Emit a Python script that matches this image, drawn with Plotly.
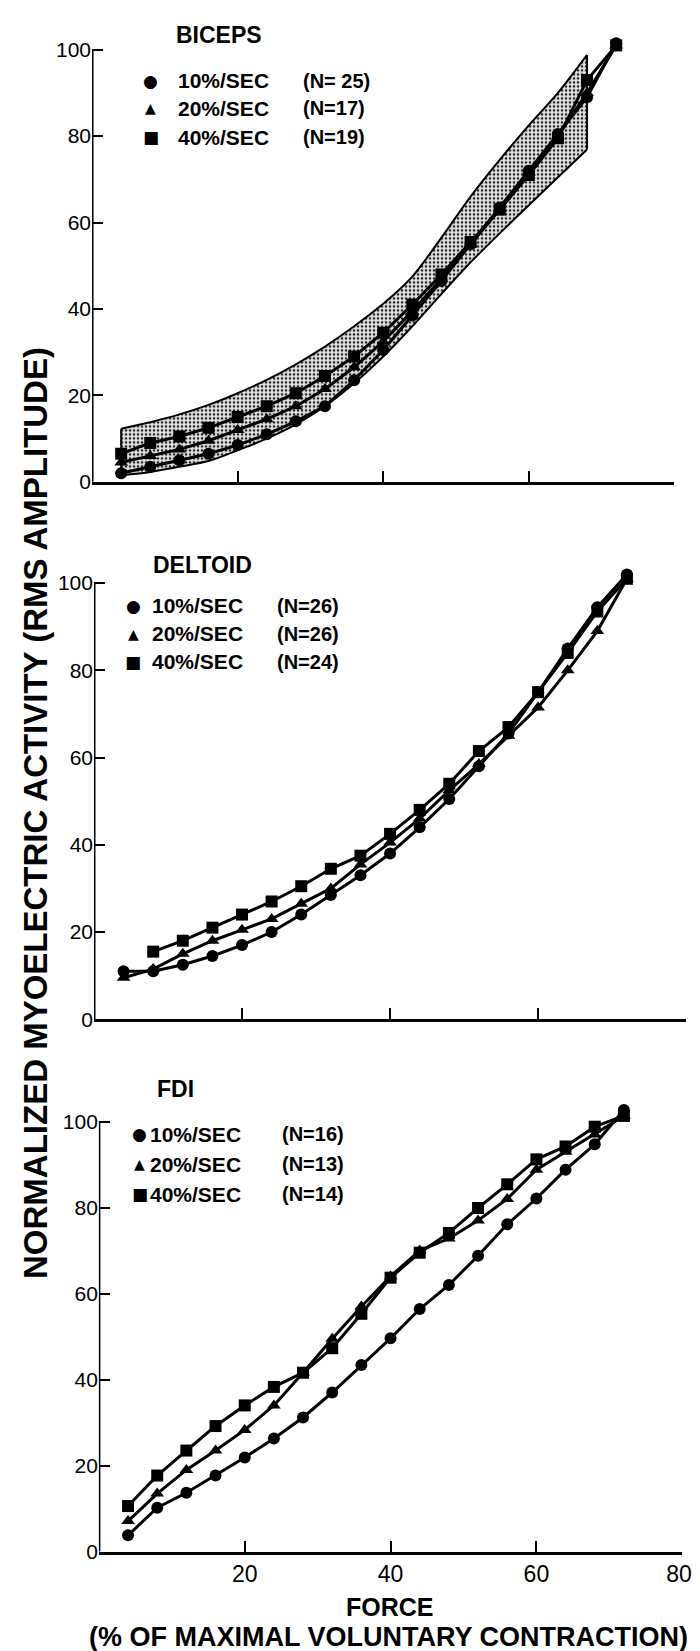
import plotly.graph_objects as go

W, H = 700, 1651
FONT = "Liberation Sans, Arial, sans-serif"

# ---------------- data ----------------
force = [4, 8, 12, 16, 20, 24, 28, 32, 36, 40, 44, 48, 52, 56, 60, 64, 68, 72]

# BICEPS
bic_10 = [2, 3.5, 5, 6.5, 8.5, 11, 14, 17.5, 23.5, 30.5, 38.5, 46.5, 55, 63.5, 72, 80.5, 89, 101.5]
bic_20 = [4.5, 6, 7.5, 9.5, 12, 14.5, 17.5, 21.5, 26.5, 32.5, 39.5, 47, 55, 63, 71.5, 80, 90, 101]
bic_40 = [6.5, 9, 10.5, 12.5, 15, 17.5, 20.5, 24.5, 29, 34.5, 41, 48, 55.5, 63, 71, 79.5, 93, 101]
band_x = [4, 8, 12, 16, 20, 24, 28, 32, 36, 40, 44, 48, 52, 56, 60, 64, 68]
band_hi = [12.3, 13.8, 15.6, 17.8, 20.5, 23.6, 27.2, 31.3, 36, 41.2, 47.5, 56.5, 66, 74.5, 82.5, 90, 98.8]
band_lo = [1.5, 2.3, 3.5, 4.8, 7.3, 10, 13.3, 17.5, 22.8, 29, 36, 43.5, 50.8, 57.5, 64, 70.5, 76.9]

# DELTOID
del_x40 = force[1:]
del_10 = [11, 11, 12.5, 14.5, 17, 20, 24, 28.5, 33, 38, 44, 50.5, 58, 65.5, 75, 85, 94.5, 102]
del_20 = [9.5, 11.5, 15, 18, 20.5, 23, 26.5, 30, 35.5, 40.5, 46, 52.5, 58.5, 65, 71.5, 80, 89, 101]
del_40 = [15.5, 18, 21, 24, 27, 30.5, 34.5, 37.5, 42.5, 48, 54, 61.5, 67, 75, 84, 93.5, 101]

# FDI
fdi_10 = [3.8, 10.2, 13.7, 17.7, 21.9, 26.3, 31.2, 37, 43.4, 49.6, 56.4, 62, 68.8, 76.1, 82.1, 88.8, 94.7, 102.7]
fdi_20 = [7.1, 13.5, 19, 23.5, 28.3, 34, 41.6, 49.5, 57, 64, 70, 72.8, 77, 82, 88.8, 93, 97, 101.3]
fdi_40 = [10.6, 17.7, 23.5, 29.2, 34, 38.3, 41.6, 47.3, 55.3, 63.7, 69.5, 74.1, 79.9, 85.4, 91.2, 94.2, 98.8, 101.3]

panels = ["BICEPS", "DELTOID", "FDI"]
rates = ["10%/SEC", "20%/SEC", "40%/SEC"]
n_counts = [["(N= 25)", "(N=17)", "(N=19)"],
            ["(N=26)", "(N=26)", "(N=24)"],
            ["(N=16)", "(N=13)", "(N=14)"]]
x_ticks = [20, 40, 60, 80]
x_ticklabels = ["20", "40", "60", "80\u00a0"]
y_ticks = [0, 20, 40, 60, 80, 100]
y_title = "NORMALIZED MYOELECTRIC ACTIVITY (RMS AMPLITUDE)"
x_title = "FORCE"
x_subtitle = "(% OF MAXIMAL VOLUNTARY CONTRACTION)"

# ---------------- layout geometry (pixels) ----------------
# (x0px, x80px, y0px, y100px) for each panel
geom = [(86, 682, 477, 42), (88, 694, 1018, 579), (93, 690, 1554, 1121)]
YMAX = 104

fig = go.Figure()

def fx(p):
    return p / W

def fy(p):
    return 1 - p / H

symbols = ["circle", "triangle-up", "square"]

series = [
    [(force, bic_10), (force, bic_20), (force, bic_40)],
    [(force, del_10), (force, del_20), (del_x40, del_40)],
    [(force, fdi_10), (force, fdi_20), (force, fdi_40)],
]

for i, (x0, x80, y0, y100) in enumerate(geom):
    ax = "" if i == 0 else str(i + 1)
    xa, ya = "x" + ax, "y" + ax
    if i == 0:
        # shaded band: lower edge, then upper edge filled down to it
        fig.add_trace(go.Scatter(
            x=band_x, y=band_lo, xaxis=xa, yaxis=ya, mode="lines",
            line=dict(color="black", width=2, shape="spline", smoothing=0.8),
            showlegend=False, hoverinfo="skip"))
        fig.add_trace(go.Scatter(
            x=band_x, y=band_hi, xaxis=xa, yaxis=ya, mode="lines", fill="tonexty",
            line=dict(color="black", width=2, shape="spline", smoothing=0.8),
            fillcolor="rgba(0,0,0,0)",
            fillpattern=dict(shape=".", size=4, solidity=0.35,
                             fgcolor="#222222", bgcolor="#e6e6e6", fillmode="replace"),
            showlegend=False, hoverinfo="skip"))
        fig.add_trace(go.Scatter(
            x=[band_x[0], band_x[0], None, band_x[-1], band_x[-1]],
            y=[band_lo[0], band_hi[0], None, band_lo[-1], band_hi[-1]],
            xaxis=xa, yaxis=ya, mode="lines", line=dict(color="black", width=2),
            showlegend=False, hoverinfo="skip"))
    for j, (sx, sy) in enumerate(series[i]):
        fig.add_trace(go.Scatter(
            x=sx, y=sy, xaxis=xa, yaxis=ya, mode="lines+markers",
            line=dict(color="black", width=3),
            marker=dict(symbol=symbols[j], size=12, color="black"),
            cliponaxis=False, showlegend=False))
    ytop = y100 - (YMAX - 100) * (y0 - y100) / 100
    fig.layout["xaxis" + ax] = dict(
        domain=[fx(x0), fx(x80)], range=[0, 80], anchor=ya,
        showgrid=False, zeroline=False, showline=True, linecolor="black", linewidth=3,
        ticks="inside", ticklen=11, tickwidth=2, tickcolor="black",
        tickvals=x_ticks, ticktext=x_ticklabels, showticklabels=(i == 2),
        ticklabeloverflow="allow",
        tickfont=dict(family=FONT, size=23, color="black"))
    fig.layout["yaxis" + ax] = dict(
        domain=[fy(y0), fy(ytop)], range=[0, YMAX], anchor=xa,
        showgrid=False, zeroline=False, showline=False,
        ticks="inside", ticklen=11, tickwidth=2, tickcolor="black",
        tickvals=y_ticks, tickfont=dict(family=FONT, size=21, color="black"))
    fig.add_shape(type="line", xref=xa, yref=ya, x0=0, x1=0, y0=0, y1=100,
                  line=dict(color="black", width=3))

annotations = []

def txt(t, x, y, size, xanchor="left", bold=True, angle=0, family=FONT):
    annotations.append(dict(
        text=("<b>%s</b>" % t) if bold else t, x=fx(x), y=fy(y),
        xref="paper", yref="paper", xanchor=xanchor, yanchor="middle",
        showarrow=False, textangle=angle,
        font=dict(family=family, size=size, color="black")))

# panel titles and legends (pixel positions)
leg = [
    dict(title=(170, 27), rows=[73, 101, 130], mk=146, tx=172, nx=300),
    dict(title=(146, 561), rows=[602, 630, 658], mk=128, tx=145, nx=273),
    dict(title=(150, 1088), rows=[1134, 1164, 1194], mk=135, tx=143, nx=278),
]
glyphs = ["●", "▲", "■"]
glyph_sizes = [17, 14, 17]
for i, L in enumerate(leg):
    txt(panels[i], L["title"][0], L["title"][1], 23)
    for j in range(3):
        y = L["rows"][j]
        txt(glyphs[j], L["mk"], y, glyph_sizes[j], xanchor="center", bold=False,
            family="DejaVu Sans")
        txt(rates[j], L["tx"], y, 21)
        txt(n_counts[i][j], L["nx"], y, 20)

txt(y_title, 28, 810, 33, xanchor="center", angle=-90)
txt(x_title, 391, 1610, 25, xanchor="center")
txt(x_subtitle, 389, 1640, 27, xanchor="center")

fig.update_layout(
    width=W, height=H, margin=dict(l=0, r=0, t=0, b=0),
    paper_bgcolor="white", plot_bgcolor="rgba(0,0,0,0)",
    annotations=annotations, showlegend=False,
    font=dict(family=FONT, color="black"))

fig.write_html("out.html")
